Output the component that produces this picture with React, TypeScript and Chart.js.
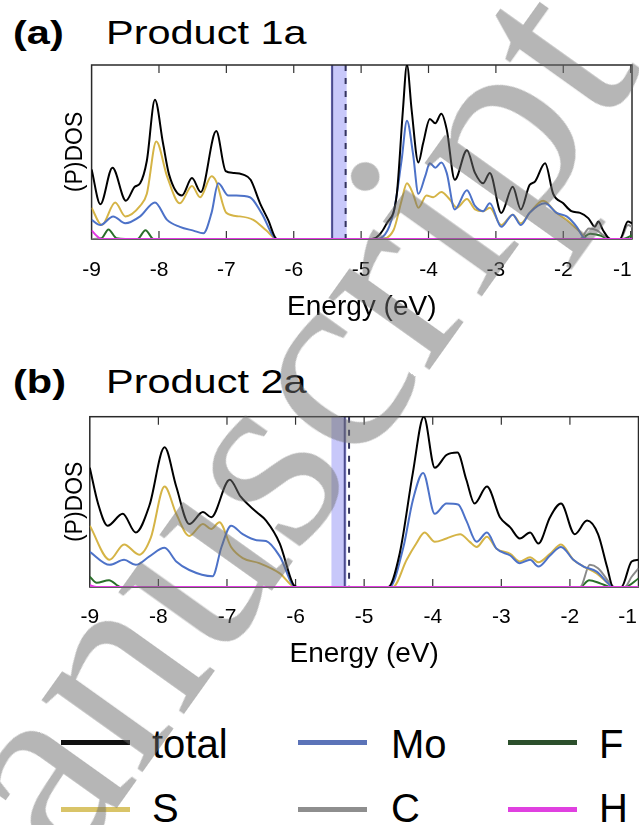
import React, { useEffect, useRef } from "react";
import { Chart, registerables } from "chart.js";

Chart.register(...registerables);

type Pt = [number, number];

const SANS = "'Liberation Sans', Arial, Helvetica, sans-serif";
const SERIF = "'Liberation Serif', 'Times New Roman', serif";

// ---------- shared labels ----------
const energyTicks = [-9, -8, -7, -6, -5, -4, -3, -2, -1];
const xTitle = "Energy (eV)";
const yTitle = "(P)DOS";
const legendOrder = ["total", "Mo", "F", "S", "C", "H"];
const seriesColors: Record<string, string> = {
  total: "#000000",
  S: "#d5b446",
  Mo: "#4d72c8",
  C: "#8a8a8a",
  F: "#2a6f2a",
  H: "#e23ae2",
};
const legendColors: Record<string, string> = {
  total: "#111111",
  S: "#d9c468",
  Mo: "#5b73b8",
  C: "#8e8e8e",
  F: "#2c4f2c",
  H: "#e040e0",
};

// ---------- panel (a) Product 1a : [energy eV, DOS] ----------
const aTotal: Pt[] = [
  [-9.0, 0.4], [-8.87, 0.2], [-8.69, 0.41], [-8.49, 0.22], [-8.36, 0.3], [-8.28, 0.32],
  [-8.18, 0.45], [-8.06, 0.8], [-7.94, 0.55], [-7.85, 0.37], [-7.66, 0.25], [-7.51, 0.35],
  [-7.38, 0.27], [-7.15, 0.62], [-7.01, 0.39], [-6.9, 0.38], [-6.75, 0.37], [-6.64, 0.34],
  [-6.5, 0.205], [-6.38, 0.11], [-6.25, 0], [-4.84, 0], [-4.62, 0.09], [-4.47, 0.26],
  [-4.38, 0.74], [-4.32, 1.0], [-4.25, 0.74], [-4.15, 0.44], [-4.08, 0.55], [-3.98, 0.69],
  [-3.9, 0.665], [-3.81, 0.72], [-3.73, 0.63], [-3.61, 0.34], [-3.43, 0.51], [-3.31, 0.38],
  [-3.19, 0.32], [-3.09, 0.38], [-2.92, 0.15], [-2.75, 0.3], [-2.63, 0.17], [-2.5, 0.31],
  [-2.42, 0.33], [-2.27, 0.435], [-2.15, 0.26], [-2.0, 0.205], [-1.88, 0.16], [-1.75, 0.15],
  [-1.63, 0.12], [-1.53, 0.07], [-1.48, 0.1], [-1.41, 0.05], [-1.3, 0], [-1.16, 0],
  [-1.04, 0.1], [-0.98, 0.09],
];
const aS: Pt[] = [
  [-9.0, 0.18], [-8.85, 0.08], [-8.65, 0.21], [-8.5, 0.13], [-8.28, 0.19], [-8.18, 0.26],
  [-8.04, 0.56], [-7.88, 0.36], [-7.69, 0.205], [-7.51, 0.305], [-7.39, 0.24], [-7.22, 0.36],
  [-7.15, 0.33], [-7.0, 0.15], [-6.8, 0.13], [-6.6, 0.11], [-6.41, 0.05], [-6.25, 0],
  [-4.72, 0], [-4.52, 0.05], [-4.4, 0.22], [-4.32, 0.32], [-4.23, 0.26], [-4.15, 0.18],
  [-4.03, 0.25], [-3.93, 0.24], [-3.81, 0.27], [-3.69, 0.23], [-3.58, 0.18], [-3.43, 0.23],
  [-3.31, 0.17], [-3.19, 0.16], [-3.09, 0.18], [-2.92, 0.08], [-2.75, 0.14], [-2.63, 0.09],
  [-2.5, 0.15], [-2.3, 0.22], [-2.1, 0.15], [-1.95, 0.11], [-1.75, 0.04], [-1.65, 0],
  [-0.98, 0],
];
const aMo: Pt[] = [
  [-9.0, 0.11], [-8.87, 0.08], [-8.68, 0.13], [-8.5, 0.09], [-8.28, 0.13], [-8.06, 0.21],
  [-7.88, 0.11], [-7.69, 0.07], [-7.49, 0.048], [-7.34, 0.033], [-7.22, 0.15], [-7.12, 0.32],
  [-6.97, 0.25], [-6.85, 0.25], [-6.65, 0.24], [-6.48, 0.15], [-6.25, 0], [-4.77, 0],
  [-4.52, 0.15], [-4.4, 0.45], [-4.32, 0.68], [-4.23, 0.49], [-4.15, 0.26], [-4.05, 0.36],
  [-3.98, 0.435], [-3.9, 0.41], [-3.81, 0.44], [-3.73, 0.38], [-3.61, 0.17], [-3.43, 0.28],
  [-3.31, 0.19], [-3.19, 0.16], [-3.09, 0.205], [-2.92, 0.07], [-2.75, 0.14], [-2.63, 0.08],
  [-2.5, 0.15], [-2.27, 0.205], [-2.1, 0.15], [-1.95, 0.13], [-1.8, 0.07], [-1.7, 0.01],
  [-1.6, 0], [-0.98, 0],
];
const aC: Pt[] = [
  [-9.0, 0], [-1.75, 0], [-1.62, 0.06], [-1.5, 0.05], [-1.4, 0.02], [-1.3, 0], [-1.15, 0],
  [-1.04, 0.08], [-0.98, 0.07],
];
const aF: Pt[] = [
  [-9.0, 0], [-8.85, 0.005], [-8.75, 0.055], [-8.63, 0.005], [-8.32, 0], [-8.2, 0.05],
  [-8.08, 0], [-1.75, 0], [-1.6, 0.03], [-1.45, 0.02], [-1.32, 0], [-1.12, 0], [-0.98, 0.02],
];
const aH: Pt[] = [[-9.0, 0.05], [-8.93, 0.02], [-8.85, 0], [-0.98, 0]];
const aBand = [-5.45, -5.215];
const aSolid = -5.43;
const aDashed = -5.23;

// ---------- panel (b) Product 2a ----------
const bTotal: Pt[] = [
  [-9.0, 0.7], [-8.88, 0.49], [-8.74, 0.36], [-8.52, 0.43], [-8.33, 0.32], [-8.13, 0.48],
  [-7.91, 0.82], [-7.74, 0.59], [-7.55, 0.37], [-7.35, 0.44], [-7.23, 0.41], [-6.96, 0.63],
  [-6.8, 0.53], [-6.57, 0.44], [-6.43, 0.39], [-6.23, 0.255], [-6.04, 0.02], [-5.98, 0],
  [-4.65, 0], [-4.48, 0.2], [-4.29, 0.67], [-4.13, 1.0], [-3.97, 0.7], [-3.8, 0.775],
  [-3.64, 0.79], [-3.51, 0.63], [-3.39, 0.49], [-3.21, 0.59], [-3.02, 0.41], [-2.87, 0.35],
  [-2.73, 0.285], [-2.58, 0.32], [-2.46, 0.255], [-2.29, 0.41], [-2.13, 0.49], [-1.93, 0.31],
  [-1.75, 0.39], [-1.59, 0.31], [-1.46, 0.12], [-1.37, 0], [-1.25, 0], [-1.1, 0.15],
  [-1.0, 0.16],
];
const bS: Pt[] = [
  [-9.0, 0.36], [-8.71, 0.16], [-8.5, 0.25], [-8.28, 0.19], [-8.11, 0.29], [-7.91, 0.59],
  [-7.74, 0.43], [-7.55, 0.3], [-7.35, 0.37], [-7.23, 0.34], [-7.11, 0.38], [-6.94, 0.235],
  [-6.77, 0.17], [-6.53, 0.14], [-6.23, 0.08], [-6.0, 0], [-4.58, 0], [-4.38, 0.16],
  [-4.24, 0.255], [-4.12, 0.32], [-3.97, 0.265], [-3.8, 0.285], [-3.6, 0.31], [-3.46, 0.265],
  [-3.36, 0.235], [-3.21, 0.295], [-3.07, 0.225], [-2.87, 0.195], [-2.73, 0.15], [-2.58, 0.175],
  [-2.46, 0.145], [-2.29, 0.195], [-2.13, 0.25], [-1.95, 0.16], [-1.8, 0.12], [-1.61, 0.08],
  [-1.44, 0.02], [-1.37, 0], [-1.0, 0],
];
const bMo: Pt[] = [
  [-9.0, 0.206], [-8.71, 0.13], [-8.5, 0.16], [-8.33, 0.13], [-8.13, 0.18], [-7.91, 0.23],
  [-7.74, 0.15], [-7.55, 0.1], [-7.21, 0.063], [-7.08, 0.235], [-6.94, 0.36], [-6.77, 0.31],
  [-6.57, 0.275], [-6.43, 0.27], [-6.23, 0.18], [-6.0, 0], [-4.63, 0], [-4.43, 0.23],
  [-4.29, 0.51], [-4.14, 0.67], [-3.97, 0.43], [-3.8, 0.49], [-3.63, 0.485], [-3.51, 0.39],
  [-3.36, 0.265], [-3.21, 0.32], [-3.07, 0.225], [-2.87, 0.185], [-2.73, 0.14], [-2.58, 0.16],
  [-2.46, 0.12], [-2.29, 0.185], [-2.13, 0.235], [-1.95, 0.16], [-1.8, 0.12], [-1.61, 0.09],
  [-1.44, 0.02], [-1.37, 0], [-1.0, 0],
];
const bC: Pt[] = [
  [-9.0, 0], [-1.85, 0], [-1.71, 0.13], [-1.59, 0.11], [-1.41, 0.02], [-1.35, 0], [-1.2, 0],
  [-1.1, 0.06], [-1.0, 0.11],
];
const bF: Pt[] = [
  [-9.0, 0.06], [-8.9, 0.025], [-8.72, 0.04], [-8.55, 0], [-1.85, 0], [-1.72, 0.04],
  [-1.55, 0.02], [-1.4, 0], [-1.2, 0], [-1.0, 0.05],
];
const bH: Pt[] = [[-9.0, 0.01], [-8.9, 0], [-1.0, 0]];
const bBand = [-5.477, -5.258];
const bSolid = -5.283;
const bDashed = -5.22;

type PanelCfg = {
  top: number;
  height: number;
  padTop: number;
  padRight: number;
  yAxisWidth: number;
  xAxisHeight: number;
  tickLabelDy: number;
  titlePad: number;
  xMax: number;
  series: Record<string, Pt[]>;
  band: number[];
  solid: number;
  dashed: number;
};

const panelA: PanelCfg = {
  top: 48, height: 300, padTop: 17, padRight: 7, yAxisWidth: 91.6, xAxisHeight: 109,
  tickLabelDy: 31.5, titlePad: 23.7, xMax: -0.98,
  series: { H: aH, total: aTotal, Mo: aMo, S: aS, C: aC, F: aF },
  band: aBand, solid: aSolid, dashed: aDashed,
};
const panelB: PanelCfg = {
  top: 400, height: 300, padTop: 16.7, padRight: 0.5, yAxisWidth: 89.8, xAxisHeight: 113,
  tickLabelDy: 30, titlePad: 29.2, xMax: -1.0,
  series: { H: bH, total: bTotal, Mo: bMo, S: bS, C: bC, F: bF },
  band: bBand, solid: bSolid, dashed: bDashed,
};

function makeDecor(cfg: PanelCfg) {
  return {
    id: "decor",
    beforeDatasetsDraw(chart: any) {
      const { ctx, chartArea, scales } = chart;
      const { left, right, top, bottom } = chartArea;
      const xs = scales.x;
      ctx.save();
      const b0 = xs.getPixelForValue(cfg.band[0]);
      const b1 = xs.getPixelForValue(cfg.band[1]);
      ctx.fillStyle = "rgb(200,200,250)";
      ctx.fillRect(b0, top, b1 - b0, bottom - top);
      const sx = xs.getPixelForValue(cfg.solid);
      ctx.strokeStyle = "#4a4a8e";
      ctx.lineWidth = 2;
      ctx.beginPath();
      ctx.moveTo(sx, top);
      ctx.lineTo(sx, bottom);
      ctx.stroke();
      const dx = xs.getPixelForValue(cfg.dashed);
      ctx.setLineDash([6, 7]);
      ctx.strokeStyle = "#34345e";
      ctx.beginPath();
      ctx.moveTo(dx, top);
      ctx.lineTo(dx, bottom);
      ctx.stroke();
      ctx.setLineDash([]);
      ctx.strokeStyle = "#2a2a2a";
      ctx.lineWidth = 1.5;
      ctx.strokeRect(left, top, right - left, bottom - top);
      ctx.lineWidth = 1.2;
      ctx.strokeStyle = "#333333";
      for (const v of energyTicks) {
        const px = xs.getPixelForValue(v);
        if (px <= left + 1 || px >= right - 1) continue;
        ctx.beginPath();
        ctx.moveTo(px, top);
        ctx.lineTo(px, top + 8);
        ctx.moveTo(px, bottom);
        ctx.lineTo(px, bottom - 8);
        ctx.stroke();
      }
      // tick labels (last one kept inside the figure, as in the source)
      ctx.fillStyle = "#000";
      ctx.font = `21px ${SANS}`;
      ctx.textBaseline = "middle";
      energyTicks.forEach((v, i) => {
        const px = xs.getPixelForValue(v);
        const last = i === energyTicks.length - 1;
        ctx.textAlign = last ? "right" : "center";
        ctx.fillText(String(v), last ? Math.min(px + 1, chart.width - 2) : px, bottom + cfg.tickLabelDy);
      });
      ctx.restore();
    },
  };
}

function DosChart({ cfg }: { cfg: PanelCfg }) {
  const ref = useRef<HTMLCanvasElement>(null);
  useEffect(() => {
    if (!ref.current) return;
    const datasets = Object.keys(cfg.series).map((name) => ({
      label: name,
      data: cfg.series[name].map(([e, d]) => ({ x: e, y: d })),
      borderColor: seriesColors[name],
      backgroundColor: seriesColors[name],
      borderWidth: 2,
      pointRadius: 0,
      fill: false,
      cubicInterpolationMode: "monotone" as const,
    }));
    const chart = new Chart(ref.current, {
      type: "line",
      data: { datasets },
      options: {
        animation: false,
        responsive: false,
        maintainAspectRatio: false,
        devicePixelRatio: 1,
        layout: { padding: { left: 0, right: cfg.padRight, top: cfg.padTop, bottom: 0 } },
        plugins: { legend: { display: false }, tooltip: { enabled: false } },
        scales: {
          x: {
            type: "linear",
            min: -9,
            max: cfg.xMax,
            afterFit: (s: any) => {
              s.height = cfg.xAxisHeight;
              s.paddingLeft = 0;
              s.paddingRight = 0;
            },
            afterBuildTicks: (s: any) => {
              s.ticks = energyTicks.map((v) => ({ value: v }));
            },
            grid: { display: false, drawTicks: false },
            border: { display: false },
            ticks: { display: false },
            title: {
              display: true,
              text: xTitle,
              color: "#000",
              font: { family: SANS, size: 28 },
              padding: { top: 0, bottom: cfg.titlePad },
            },
          },
          y: {
            min: 0,
            max: 1.0,
            afterFit: (s: any) => {
              s.width = cfg.yAxisWidth;
            },
            grid: { display: false, drawTicks: false },
            border: { display: false },
            ticks: { display: false },
            title: {
              display: true,
              text: yTitle,
              color: "#000",
              font: { family: SANS, size: 23 },
              padding: { top: 62, bottom: 0 },
            },
          },
        },
      } as any,
      plugins: [makeDecor(cfg)],
    });
    return () => chart.destroy();
  }, [cfg]);
  return (
    <canvas
      ref={ref}
      width={639}
      height={cfg.height}
      style={{ position: "absolute", left: 0, top: cfg.top, width: 639, height: cfg.height, display: "block" }}
    />
  );
}

function PanelTitle({ top, letter, name }: { top: number; letter: string; name: string }) {
  const common: React.CSSProperties = {
    position: "absolute",
    top,
    fontSize: 34,
    lineHeight: "34px",
    whiteSpace: "nowrap",
    transform: "scaleX(1.22)",
    transformOrigin: "left top",
    fontFamily: SANS,
  };
  return (
    <>
      <div style={{ ...common, left: 13, fontWeight: 700 }}>{letter}</div>
      <div style={{ ...common, left: 106 }}>{name}</div>
    </>
  );
}

const legendColX = [61, 298, 508];
const legendTextX = [152, 391, 599];
const legendLineY = [742, 809.5];
const legendTextTop = [723.6, 788];

function Legend() {
  return (
    <>
      {legendOrder.map((name, i) => {
        const col = i % 3;
        const row = Math.floor(i / 3);
        return (
          <React.Fragment key={name}>
            <div
              style={{
                position: "absolute",
                left: legendColX[col],
                top: legendLineY[row] - 2.5,
                width: 69,
                height: 5,
                background: legendColors[name],
              }}
            />
            <div
              style={{
                position: "absolute",
                left: legendTextX[col],
                top: legendTextTop[row],
                fontSize: 40,
                lineHeight: "40px",
                fontFamily: SANS,
                whiteSpace: "nowrap",
              }}
            >
              {name}
            </div>
          </React.Fragment>
        );
      })}
    </>
  );
}

// watermark of the source page: text ends (baseline) at the upper right, rotated
const WM_W = 2800;
const WM_SIZE = 270;
const WM_BASE = 226;
const WM_END_X = 644;
const WM_END_Y = 69;
function Watermark() {
  return (
    <div
      style={{
        position: "absolute",
        left: WM_END_X - WM_W,
        top: WM_END_Y - WM_BASE,
        width: WM_W,
        textAlign: "right",
        fontFamily: SERIF,
        fontSize: WM_SIZE,
        lineHeight: `${WM_SIZE}px`,
        color: "rgba(110,110,110,0.5)",
        whiteSpace: "nowrap",
        transform: "rotate(-54.5deg)",
        transformOrigin: `${WM_W}px ${WM_BASE}px`,
        pointerEvents: "none",
      }}
    >
      Accepted Manuscript
    </div>
  );
}

export default function App() {
  return (
    <div
      style={{
        position: "absolute",
        left: 0,
        top: 0,
        width: 639,
        height: 825,
        overflow: "hidden",
        background: "#ffffff",
        color: "#000",
        fontFamily: SANS,
      }}
    >
      <PanelTitle top={14.5} letter="(a)" name="Product 1a" />
      <DosChart cfg={panelA} />
      <PanelTitle top={364} letter="(b)" name="Product 2a" />
      <DosChart cfg={panelB} />
      <Legend />
      <Watermark />
    </div>
  );
}
